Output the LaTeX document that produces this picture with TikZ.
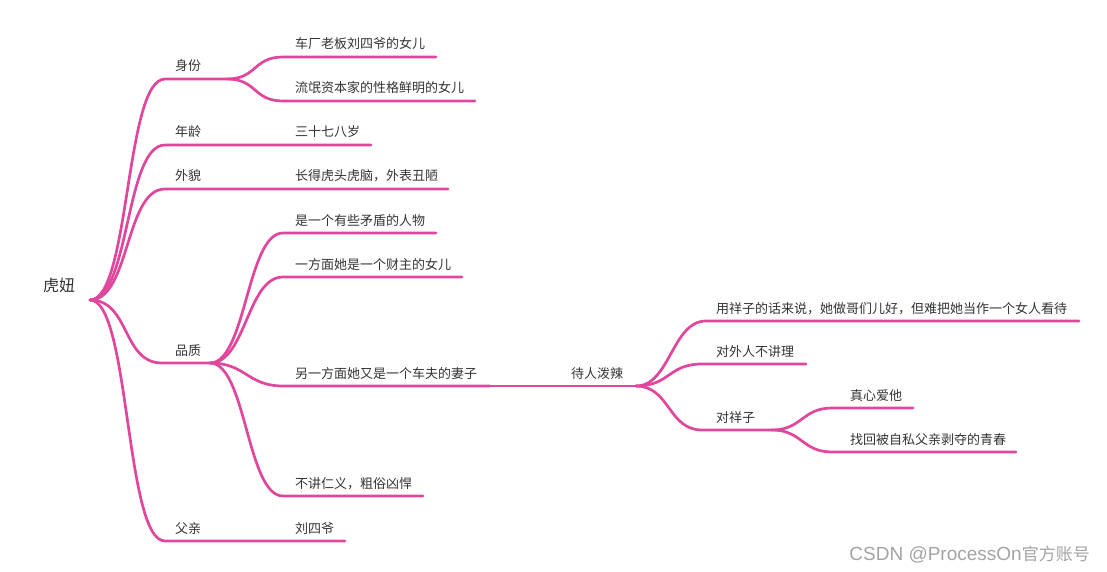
\documentclass[tikz,border=0pt]{standalone}
\usepackage{fontspec}
\setmainfont{Noto Sans CJK SC}
\newfontfamily\cjk{Noto Sans CJK SC}
\newfontfamily\wmlat{Liberation Sans}
\definecolor{brc}{HTML}{E0479C}
\definecolor{txc}{HTML}{333333}
\definecolor{wmc}{HTML}{A3A3A3}
\begin{document}
\begin{tikzpicture}[x=1pt,y=-1pt,
  br/.style={draw=brc,line width=2.7pt,line cap=round},
  lbl/.style={anchor=base west,inner sep=0pt,text=txc,font=\cjk\fontsize{13}{15}\selectfont},
  rootlbl/.style={anchor=center,inner sep=0pt,text=txc,font=\cjk\fontsize{16}{18}\selectfont},
  wm/.style={anchor=base east,inner sep=0pt,text=wmc}]
\useasboundingbox (0,0) rectangle (1107,572);
% coordinates
\coordinate (R) at (90,300);
\coordinate (s1a) at (165,79);  \coordinate (s1b) at (227,79);
\coordinate (s2a) at (165,145); \coordinate (s2b) at (371,145);
\coordinate (s3a) at (165,189); \coordinate (s3b) at (448,189);
\coordinate (s4a) at (162,363); \coordinate (s4b) at (210,363);
\coordinate (s5a) at (165,541); \coordinate (s5b) at (345,541);
\coordinate (c1a) at (283,57);  \coordinate (c1b) at (436,57);
\coordinate (c2a) at (283,101); \coordinate (c2b) at (475,101);
\coordinate (q1a) at (283,233); \coordinate (q1b) at (436,233);
\coordinate (q2a) at (283,277); \coordinate (q2b) at (462,277);
\coordinate (q3a) at (283,386); \coordinate (q3b) at (490,386);
\coordinate (q3c) at (636,386);
\coordinate (q4a) at (283,496); \coordinate (q4b) at (423,496);
\coordinate (d1a) at (706,321); \coordinate (d1b) at (1079,321);
\coordinate (d2a) at (702,364); \coordinate (d2b) at (806,364);
\coordinate (d3a) at (702,430); \coordinate (d3b) at (772,430);
\coordinate (e1a) at (832,408); \coordinate (e1b) at (913,408);
\coordinate (e2a) at (832,452); \coordinate (e2b) at (1016,452);
% root branches
\foreach \t/\e in {s1a/s1b,s2a/s2b,s3a/s3b,s4a/s4b,s5a/s5b}
  \draw[br] (R) .. controls +(40,0) and +(-40,0) .. (\t) -- (\e);
% 身份 children
\foreach \t/\e in {c1a/c1b,c2a/c2b}
  \draw[br] (s1b) .. controls +(30,0) and +(-30,0) .. (\t) -- (\e);
% 品质 children
\foreach \t/\e in {q1a/q1b,q2a/q2b,q3a/q3b,q4a/q4b}
  \draw[br] (s4b) .. controls +(36,0) and +(-36,0) .. (\t) -- (\e);
\draw[br] (q3b) -- (q3c);
% 待人泼辣 children
\foreach \t/\e in {d1a/d1b,d2a/d2b,d3a/d3b}
  \draw[br] (q3c) .. controls +(34,0) and +(-34,0) .. (\t) -- (\e);
% 对祥子 children
\foreach \t/\e in {e1a/e1b,e2a/e2b}
  \draw[br] (d3b) .. controls +(30,0) and +(-30,0) .. (\t) -- (\e);
% labels
\node[rootlbl] (root) at (59,285) {虎妞};
\node[lbl] (n1) at (175,71) {身份};
\node[lbl] (n2) at (175,137) {年龄};
\node[lbl] (n3) at (175,181) {外貌};
\node[lbl] (n4) at (175,355) {品质};
\node[lbl] (n5) at (175,533) {父亲};
\node[lbl] (m1) at (295,49) {车厂老板刘四爷的女儿};
\node[lbl] (m2) at (295,93) {流氓资本家的性格鲜明的女儿};
\node[lbl] (m3) at (295,137) {三十七八岁};
\node[lbl] (m4) at (295,181) {长得虎头虎脑，外表丑陋};
\node[lbl] (m5) at (295,225) {是一个有些矛盾的人物};
\node[lbl] (m6) at (295,269) {一方面她是一个财主的女儿};
\node[lbl] (m7) at (295,378) {另一方面她又是一个车夫的妻子};
\node[lbl] (m8) at (295,488) {不讲仁义，粗俗凶悍};
\node[lbl] (m9) at (295,533) {刘四爷};
\node[lbl] (p1) at (571,378) {待人泼辣};
\node[lbl] (r1) at (716,313) {用祥子的话来说，她做哥们儿好，但难把她当作一个女人看待};
\node[lbl] (r2) at (716,356) {对外人不讲理};
\node[lbl] (r3) at (716,422) {对祥子};
\node[lbl] (t1) at (850,400) {真心爱他};
\node[lbl] (t2) at (850,444) {找回被自私父亲剥夺的青春};
\node[wm] (wmark) at (1090,560) {{\wmlat\fontsize{19}{21}\selectfont CSDN @ProcessOn}{\cjk\fontsize{17}{19}\selectfont 官方账号}};
\end{tikzpicture}
\end{document}
